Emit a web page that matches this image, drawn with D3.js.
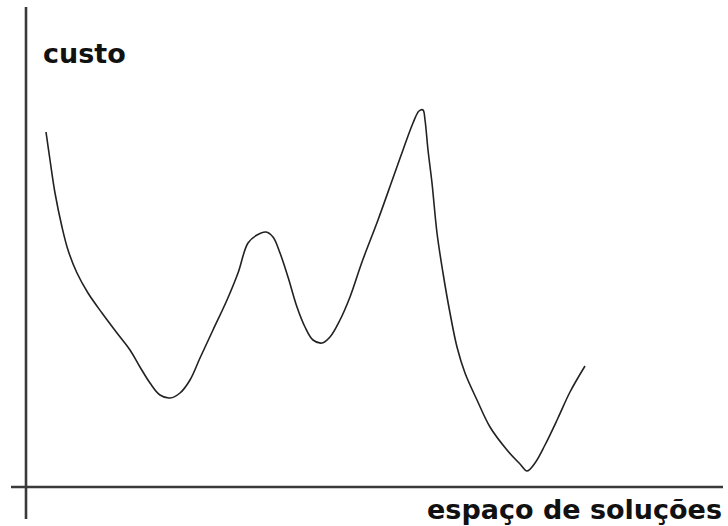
<!DOCTYPE html>
<html><head><meta charset="utf-8">
<script src="https://cdn.jsdelivr.net/npm/d3@7"></script>
<style>body{margin:0;background:#fff}svg{display:block}</style>
</head><body>
<script>
const xLabel = "espaço de soluções";
const yLabel = "custo";
// solution-space position (0..560) and cost (0 = axis, 480 = top)
const position = [0,4,9,16,22,31,42,56,71,84,94,104,114,124,134,144,154,167,181,192,202,211,220,227,234,242,251,259,267,276,284,294,304,316,332,347,357,367,373,377,379,382,386,391,397,404,411,419,431,444,461,474,481,489,499,512,524,539];
const cost = [355,327,294,260,237,214,194,174,154,137,120,104,92,89,94,107,129,157,187,214,244,252,255,250,234,210,180,160,147,144,150,167,190,225,267,309,337,364,376,377,367,337,304,254,214,174,140,114,87,60,37,23,16,24,42,69,95,121];
</script>
<script>
const W = 728, H = 526;
const svg = d3.select("body").append("svg").attr("width", W).attr("height", H);
const originX = 26, originY = 487;
const x = d3.scaleLinear().domain([0, 560]).range([46, 606]);
const y = d3.scaleLinear().domain([0, 480]).range([originY, 7]);

// axes
svg.append("line").attr("x1", originX).attr("x2", originX).attr("y1", 7).attr("y2", 519)
  .attr("stroke", "#3a3a3a").attr("stroke-width", 2.6);
svg.append("line").attr("x1", 11).attr("x2", 723).attr("y1", originY).attr("y2", originY)
  .attr("stroke", "#3a3a3a").attr("stroke-width", 2.6);

const n = Math.min(position.length, cost.length);
const pts = d3.range(n).map(i => [position[i], cost[i]]);
svg.append("path").datum(pts)
  .attr("d", d3.line().x(d => x(d[0])).y(d => y(d[1])).curve(d3.curveCatmullRom.alpha(0.5)))
  .attr("fill", "none").attr("stroke", "#222").attr("stroke-width", 1.6);

svg.append("text").attr("x", 43).attr("y", 63).text(yLabel)
  .attr("font-family", "DejaVu Sans").attr("font-weight", "bold").attr("font-size", 27).attr("fill", "#111");
svg.append("text").attr("x", 722).attr("y", 519).attr("text-anchor", "end").text(xLabel)
  .attr("font-family", "DejaVu Sans").attr("font-weight", "bold").attr("font-size", 27).attr("fill", "#111");
</script>
</body></html>
